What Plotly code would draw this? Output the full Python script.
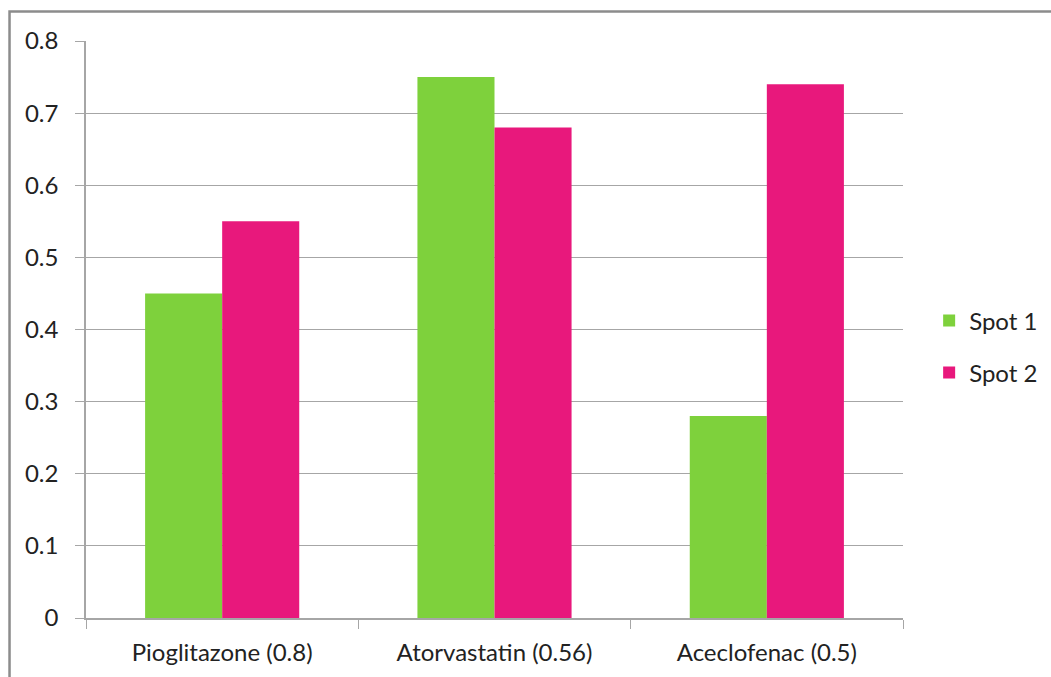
import plotly.graph_objects as go

categories = ["Pioglitazone (0.8)", "Atorvastatin (0.56)", "Aceclofenac (0.5)"]
spot1 = [0.45, 0.75, 0.28]
spot2 = [0.55, 0.68, 0.74]
y_ticks = [0, 0.1, 0.2, 0.3, 0.4, 0.5, 0.6, 0.7, 0.8]

GREEN = "#7ED13C"
PINK = "#E8187C"
GRID = "#A6A6A6"
FONT = "Lato"
FSIZE = 24

fig = go.Figure()
fig.add_trace(go.Bar(name="Spot 1", x=categories, y=spot1, marker_color=GREEN,
                     marker_line_width=0, legendgroup="a"))
fig.add_trace(go.Bar(name="Spot 2", x=categories, y=spot2, marker_color=PINK,
                     marker_line_width=0, legendgroup="b"))

fig.update_layout(
    width=1051, height=677,
    margin=dict(l=86, r=148, t=41, b=59, autoexpand=False),
    paper_bgcolor="white", plot_bgcolor="white",
    barmode="group", bargap=0.434, bargroupgap=0,
    font=dict(family=FONT, size=FSIZE, color="#222222"),
    showlegend=True,
    legend=dict(x=1.032, y=0.47, xanchor="left", yanchor="middle",
                font=dict(size=FSIZE, color="#222222"), tracegroupgap=18,
                itemwidth=30),
    xaxis=dict(
        type="category", tickson="boundaries", ticks="outside", ticklen=9,
        tickcolor=GRID, showline=True, linecolor=GRID, linewidth=1.5,
        showgrid=False, tickfont=dict(size=FSIZE), ticklabelstandoff=12,
    ),
    yaxis=dict(
        range=[0, 0.8], tickvals=y_ticks, ticktext=[f"{v:g}" for v in y_ticks],
        ticks="outside", ticklen=9, tickcolor=GRID, showgrid=True,
        gridcolor=GRID, gridwidth=1.2, showline=True, linecolor=GRID,
        linewidth=1.5, zeroline=False, tickfont=dict(size=FSIZE),
        ticklabelstandoff=12,
    ),
    shapes=[dict(type="rect", xref="paper", yref="paper",
                 x0=-0.0936, x1=1.4, y0=-0.3, y1=1.0511,
                 line=dict(color="#8C8C8C", width=2.5), layer="below")],
)

fig.write_html("out.html")
